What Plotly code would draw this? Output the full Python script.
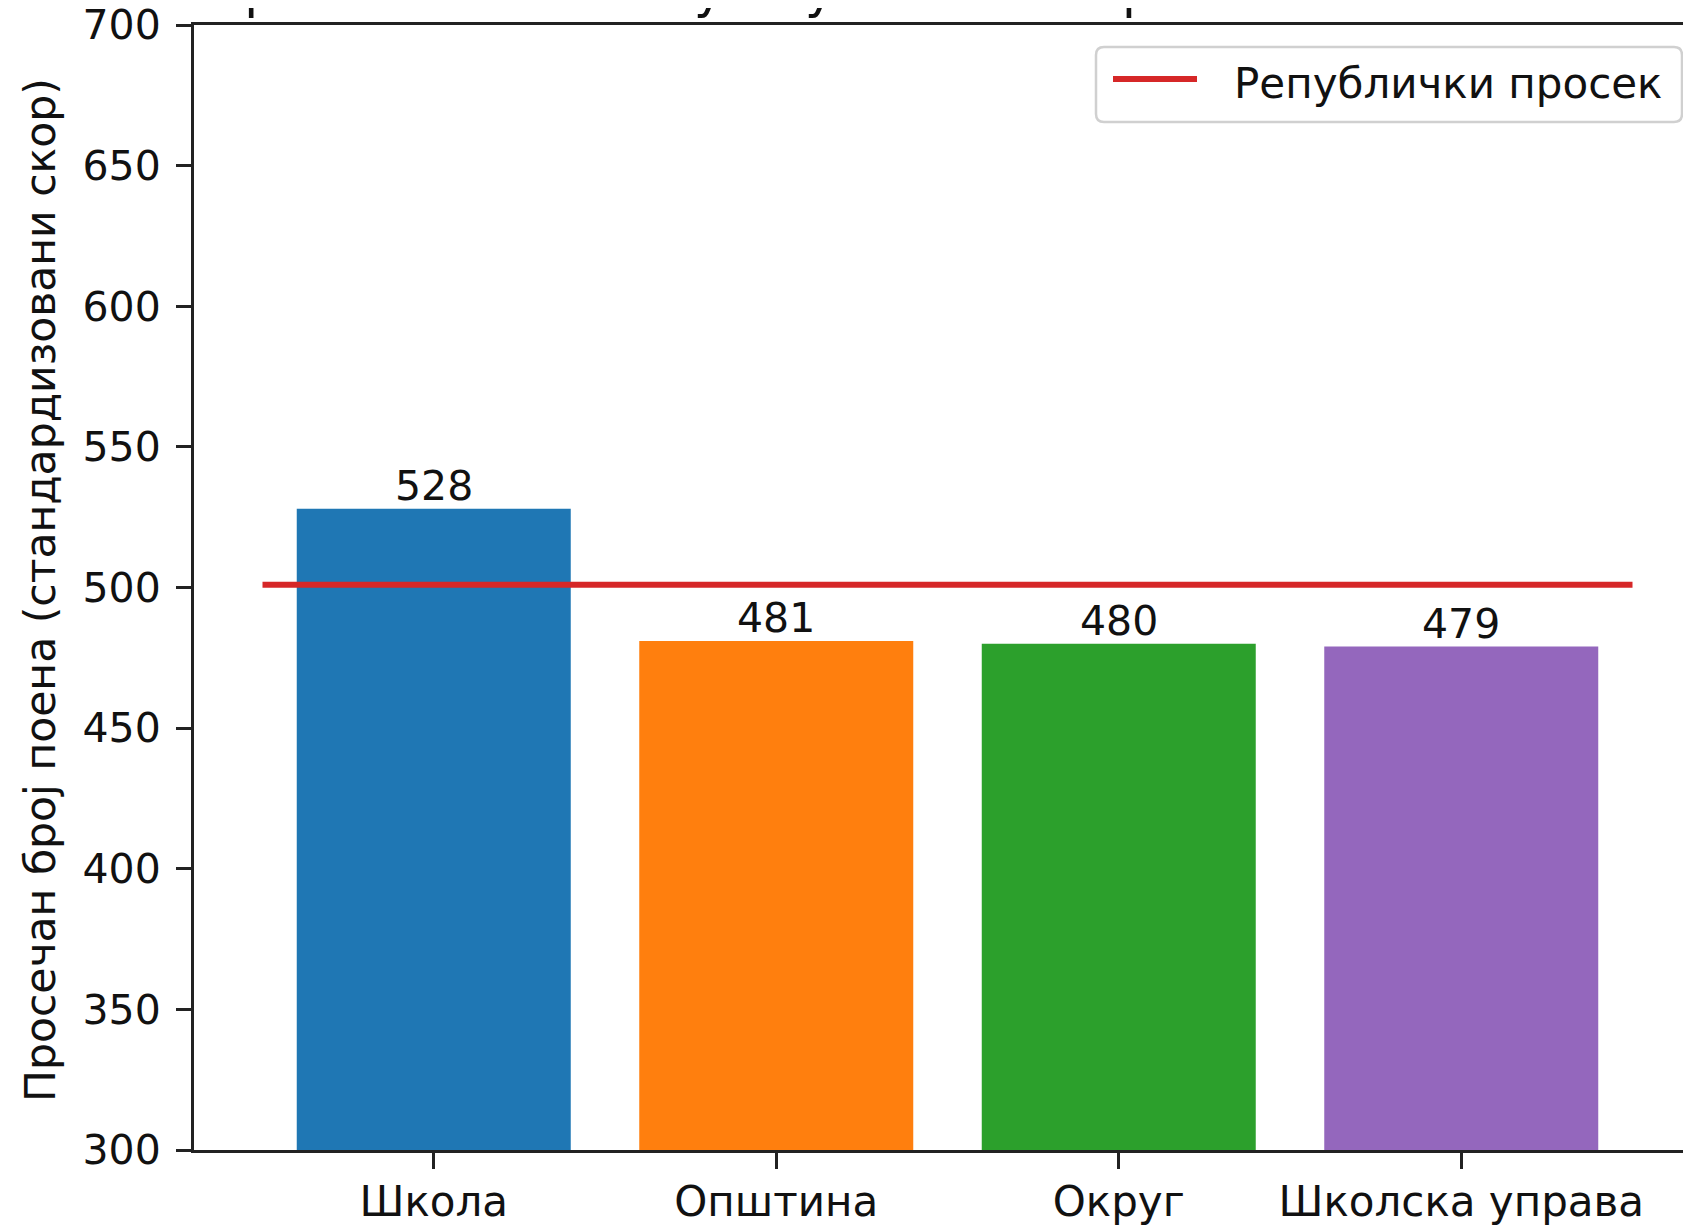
import plotly.graph_objects as go

categories = ["Школа", "Општина", "Округ", "Школска управа"]
values = [528, 481, 480, 479]
bar_colors = ["#1f77b4", "#ff7f0e", "#2ca02c", "#9467bd"]
republic_avg = 501
legend_label = "Републички просек"
title_text = "Просечно постигнуће ученика на различитим нивоима"
y_title = "Просечан број поена (стандардизовани скор)"
y_ticks = [300, 350, 400, 450, 500, 550, 600, 650, 700]

# page is offset by the default 8px body margin
OFF = 8
PAGE_W, PAGE_H = 1691, 1225
W, H = PAGE_W - OFF, PAGE_H - OFF
# plot area in page pixels: left 194, top 25, bottom 1150, right = page edge
L, T = 194 - OFF, 25 - OFF
B = H - (1150 - OFF)
R = 0
PW, PH = W - L - R, H - T - B
FONT = "DejaVu Sans"
FS = 42
FN = 41


def px(x):
    return (x - OFF - L) / PW


def py(y):
    return (H - B - (y - OFF)) / PH


n = len(categories)
x_idx = list(range(n))

fig = go.Figure()
fig.add_trace(go.Bar(
    x=x_idx, y=[v - y_ticks[0] for v in values], base=y_ticks[0],
    width=0.8, marker=dict(color=bar_colors, line=dict(width=0)),
    showlegend=False, hoverinfo="skip",
))
fig.add_trace(go.Scatter(
    x=[-0.5, n - 0.5], y=[republic_avg, republic_avg], mode="lines",
    line=dict(color="#d62728", width=6), name=legend_label, showlegend=False,
))

for i, v in enumerate(values):
    fig.add_annotation(x=i, y=v, text=str(v), showarrow=False, yanchor="bottom",
                       xanchor="center", yshift=-3,
                       font=dict(family=FONT, size=FN, color="#111"))

# title (partially cut off at the top, as in the reference)
fig.add_annotation(xref="paper", yref="paper", x=px(947.5), y=py(21), text=title_text,
                   showarrow=False, xanchor="center", yanchor="bottom",
                   font=dict(family=FONT, size=51, color="#111"))

# y-axis title
fig.add_annotation(xref="paper", yref="paper", x=px(40), y=py(590), text=y_title,
                   showarrow=False, xanchor="center", yanchor="middle", textangle=-90,
                   font=dict(family=FONT, size=42.5, color="#111"))

# legend box (matplotlib style: rounded, light grey frame)
x0, x1, y0, y1 = 1096, 1682, 47, 122
r = 8
rx, ry = r / PW, r / PH
X0, X1, Y0, Y1 = px(x0), px(x1), py(y1), py(y0)
path = (f"M{X0+rx},{Y0} L{X1-rx},{Y0} Q{X1},{Y0} {X1},{Y0+ry} L{X1},{Y1-ry} "
        f"Q{X1},{Y1} {X1-rx},{Y1} L{X0+rx},{Y1} Q{X0},{Y1} {X0},{Y1-ry} "
        f"L{X0},{Y0+ry} Q{X0},{Y0} {X0+rx},{Y0} Z")
fig.add_shape(type="path", path=path, xref="paper", yref="paper",
              line=dict(color="#d0d0d0", width=2.5), fillcolor="rgba(255,255,255,0.8)")
fig.add_shape(type="line", xref="paper", yref="paper", x0=px(1113), x1=px(1197),
              y0=py(79), y1=py(79), line=dict(color="#d62728", width=6))
fig.add_annotation(xref="paper", yref="paper", x=px(1232), y=py(83), text=legend_label,
                   showarrow=False, xanchor="left", yanchor="middle",
                   font=dict(family=FONT, size=FS, color="#111"))

unit = (1701 - 194) / 4.4
right = -0.7 + PW / unit
fig.update_layout(
    width=W, height=H,
    margin=dict(l=L, r=R, t=T, b=B, autoexpand=False),
    plot_bgcolor="white", paper_bgcolor="white",
    font=dict(family=FONT, size=FS, color="#111"),
    showlegend=False,
    xaxis=dict(range=[-0.7, right], tickmode="array", tickvals=x_idx, ticktext=categories,
               showgrid=False, zeroline=False, showline=True, linecolor="#222", linewidth=3,
               mirror=True, ticks="outside", ticklen=16, tickwidth=3, tickcolor="#222",
               ticklabelstandoff=-3, ticklabeloverflow="allow",
               tickfont=dict(family=FONT, size=FS, color="#111")),
    yaxis=dict(range=[300, 700], tickmode="array", tickvals=y_ticks,
               showgrid=False, zeroline=False, showline=True, linecolor="#222", linewidth=3,
               ticks="outside", ticklen=15, tickwidth=3, tickcolor="#222",
               ticklabelstandoff=7, ticklabeloverflow="allow",
               tickfont=dict(family=FONT, size=FN, color="#111")),
)

fig.write_html("out.html")
